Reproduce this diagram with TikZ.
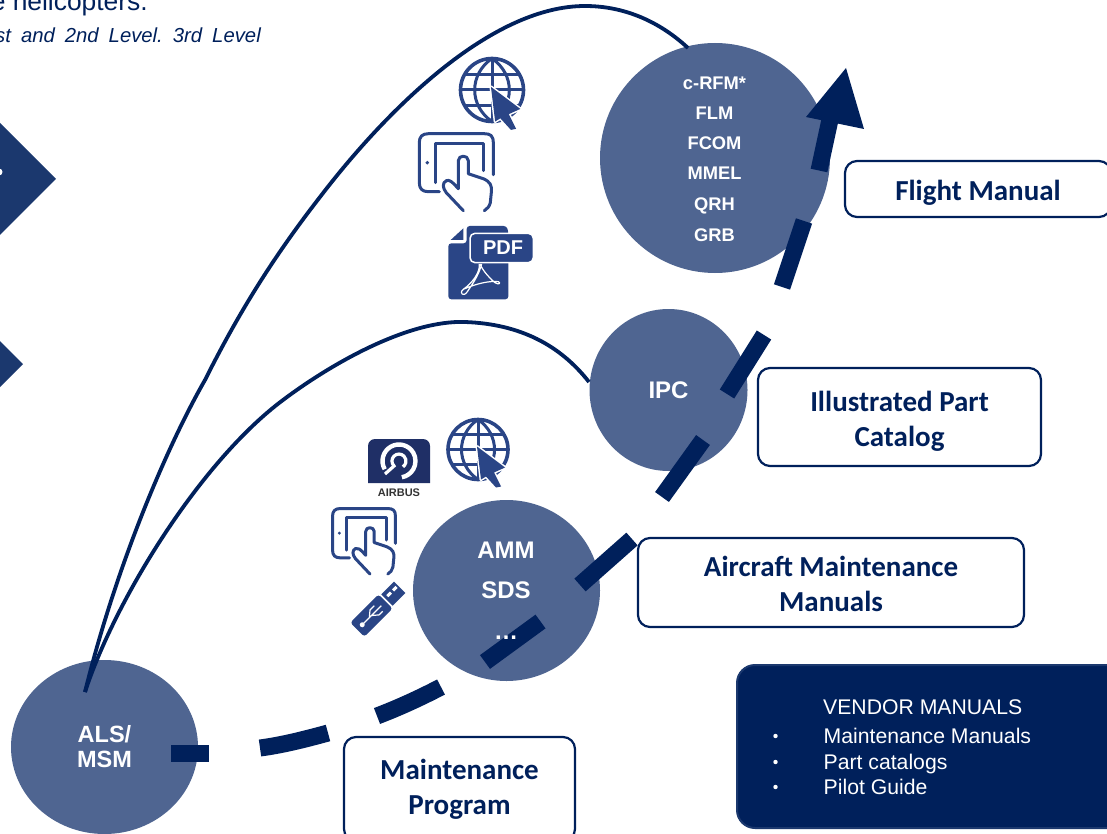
\documentclass[tikz,border=0pt]{standalone}
\usepackage{fontspec}
\setmainfont{Liberation Sans}
\newfontfamily\boxfont{Carlito}
\usetikzlibrary{shapes.geometric}
\definecolor{navy}{HTML}{00205B}
\definecolor{disc}{HTML}{4F6591}
\definecolor{icon}{HTML}{2A4586}
\definecolor{tri}{HTML}{1B386E}
\definecolor{logo}{HTML}{1F2F66}
\newcommand{\fs}[1]{\fontsize{#1}{#1}\selectfont}
\tikzset{
  x=1pt,y=-1pt,
  disc/.style={ellipse,fill=disc,inner sep=0pt,text=white,align=center,font=\bfseries\fs{24}},
  lab/.style={anchor=base,text=white,font=\bfseries\fs{18.3},inner sep=0pt},
  namebox/.style={draw=navy,line width=2.2pt,fill=white,rounded corners=12pt,text=navy,align=center,font=\boxfont\bfseries\fontsize{29}{35}\selectfont,inner sep=0pt},
  thin curve/.style={draw=navy,line width=3.8pt},
  dashpart/.style={draw=navy,line width=17pt},
  iconline/.style={draw=icon,line width=3pt,line cap=round,line join=round},
  vend/.style={anchor=base west,inner sep=0pt,text=white,font=\fs{21.2}},
}
\newcommand{\globeicon}[3]{\begin{scope}[shift={(#1,#2)},scale=#3]
  \draw[iconline,line width=3.6pt,line cap=butt] (0,0) circle (30);
  \draw[iconline,line cap=butt] (0,-30) -- (0,30) (-30,0) -- (30,0) (-26,-15) -- (26,-15) (-26,15) -- (26,15);
  \draw[iconline,line cap=butt] (0,-30) .. controls (-22,-15) and (-22,15) .. (0,30) (0,-30) .. controls (22,-15) and (22,15) .. (0,30);
  \fill[icon,draw=white,line width=3pt,line join=round] (-1,-3) -- (27,18) -- (16,23) -- (23,37) -- (18,38) -- (8,27) -- (3,30) -- cycle;
  \fill[icon,line join=round] (-1,-3) -- (27,18) -- (16,23) -- (23,37) -- (18,38) -- (8,27) -- (3,30) -- cycle;
\end{scope}}
\newcommand{\tableticon}[3]{\begin{scope}[shift={(#1,#2)},scale=#3]
  \draw[iconline] (75,42) -- (75,10) .. controls (75,3) and (72,1) .. (66,1) -- (10,1) .. controls (4,1) and (1,4) .. (1,10) -- (1,50) .. controls (1,56) and (4,59) .. (10,59) -- (21,59);
  \draw[iconline] (17,50) -- (17,11) -- (65,11) -- (65,38);
  \fill[icon] (9,30) circle (1.9);
  \draw[iconline,fill=white] (45,78) -- (28,60) .. controls (24,55) and (24,50) .. (28,48) .. controls (31,47) and (33,48) .. (40,56) -- (40,28) .. controls (40,22) and (50,22) .. (50,28) -- (50,41) -- (65,46) .. controls (72,49) and (74,53) .. (73,60) -- (72,70) .. controls (71,74) and (69,76) .. (66,78);
\end{scope}}
\begin{document}
\begin{tikzpicture}
\useasboundingbox (0,0) rectangle (1107,834);
\clip (0,0) rectangle (1107,834);
% cut-off text and shapes at the top left
\node[anchor=base east,inner sep=0pt,text=navy,font=\fs{26.4}] (head) at (148,11) {e helicopters.};
\node[anchor=base east,inner sep=0pt,text=navy,font=\itshape\fs{20.3}] (sub) at (261,43) {st\hspace{10pt}and\hspace{10pt}2nd\hspace{10pt}Level.\hspace{10pt}3rd\hspace{10pt}Level};
\fill[tri] (-1,122) -- (56,179) -- (-1,236) -- cycle;
\fill[white] (-1,172) circle (3.5);
\fill[tri] (-1,340) -- (23,364) -- (-1,388) -- cycle;
% discs
\node[disc,minimum width=230pt,minimum height=230pt] (flm) at (715,158) {};
\node[disc,minimum width=158pt,minimum height=162pt] (ipc) at (668.5,390) {IPC};
\node[disc,minimum width=187pt,minimum height=181pt] (amm) at (506.5,590.5) {};
\node[disc,minimum width=187pt,minimum height=174pt] (als) at (104.5,747) {};
\node[lab] (t1) at (714.5,89.5) {c-RFM*};
\node[lab] (t2) at (714.5,120) {FLM};
\node[lab] (t3) at (714.5,150) {FCOM};
\node[lab] (t4) at (714.5,180) {MMEL};
\node[lab] (t5) at (714.5,211) {QRH};
\node[lab] (t6) at (714.5,241) {GRB};
\node[lab,font=\bfseries\fs{24}] (a1) at (506,558.5) {AMM};
\node[lab,font=\bfseries\fs{24}] (a2) at (506,598.5) {SDS};
\node[lab,font=\bfseries\fs{23.5}] (s1) at (104.5,742) {ALS/};
\node[lab,font=\bfseries\fs{23.5}] (s2) at (104.5,767) {MSM};
% thin curved connectors
\coordinate (start) at (85,692);
\coordinate (fend) at (688,48);
\coordinate (iend) at (589,382);
\draw[thin curve] (start) .. controls (115,570) and (165,450) .. (205,380) .. controls (240,310) and (275,255) .. (320,197) .. controls (385,112) and (490,6) .. (585,6) .. controls (625,6) and (660,22) .. (fend);
\draw[thin curve] (start) .. controls (115,600) and (200,462) .. (283,400) .. controls (335,361) and (410,320) .. (465,322) .. controls (520,324) and (560,345) .. (iend);
% dashed growing arrow
\coordinate (d1) at (171,753.5); \coordinate (d2) at (209,753.5);
\coordinate (d3) at (260,748); \coordinate (d4) at (328,733);
\coordinate (d5) at (377,716); \coordinate (d6) at (441,687);
\coordinate (d7) at (485,662); \coordinate (d8) at (540.5,621.5);
\coordinate (d9) at (580,585); \coordinate (d10) at (632,539);
\coordinate (d11) at (662,497); \coordinate (d12) at (703,440);
\coordinate (d13) at (727,394); \coordinate (d14) at (764,335);
\coordinate (d15) at (782,287); \coordinate (d16) at (804,221);
\coordinate (d17) at (819,170.5); \coordinate (d18) at (831,115);
\draw[dashpart] (d1) -- (d2);
\draw[dashpart] (d3) .. controls (283,745) and (306,739) .. (d4);
\draw[dashpart] (d5) .. controls (398,708) and (420,698) .. (d6);
\draw[dashpart] (d7) -- (d8);
\draw[dashpart] (d9) -- (d10);
\draw[dashpart] (d11) -- (d12);
\draw[dashpart] (d13) -- (d14);
\draw[dashpart] (d15) -- (d16);
\draw[dashpart] (d17) -- (d18);
\fill[navy] (846,68) -- (864,129) -- (806,117) -- cycle;
\node[lab,font=\bfseries\fs{24}] (a3) at (506,639) {…};
% name boxes
\node[namebox,minimum width=266pt,minimum height=56pt] (fm) at (978,189) {\rule{0pt}{27pt}Flight Manual};
\node[namebox,minimum width=283pt,minimum height=98pt] (ip) at (899.5,417) {\rule{0pt}{29pt}Illustrated Part\\Catalog};
\node[namebox,minimum width=386pt,minimum height=89pt] (am) at (831,582.5) {\rule{0pt}{23pt}Aircraft Maintenance\\Manuals};
\node[namebox,minimum width=231pt,minimum height=104pt] (mp) at (459.5,789) {Maintenance\\Program};
% vendor box
\node[fill=navy,draw=tri,line width=2pt,rounded corners=18pt,minimum width=390pt,minimum height=163pt,inner sep=0pt] (vm) at (932,746.5) {};
\node[vend] (v0) at (823,714) {VENDOR MANUALS};
\node[vend] (v1) at (823.5,743) {Maintenance Manuals};
\node[vend] (v2) at (823.5,769) {Part catalogs};
\node[vend] (v3) at (823.5,794) {Pilot Guide};
\foreach \y in {736,762,787} \fill[white] (775.5,\y) circle (2.2);
% icons
\globeicon{492}{90}{1.05}
\tableticon{418.3}{132.7}{1}
\begin{scope}[shift={(320,40)},scale=1/3]
  \fill[icon,rounded corners=3pt] (440,558) -- (560,558) -- (565,575) -- (565,778) -- (385,778) -- (385,610) -- (440,610) -- cycle;
  \fill[icon] (392,600) -- (430,600) -- (430,565) -- cycle;
  \draw[white,line width=1.2pt,line join=round] (478,672) .. controls (480,700) and (455,730) .. (430,748) .. controls (415,760) and (432,772) .. (442,755) .. controls (455,735) and (475,710) .. (485,672) (430,748) .. controls (470,730) and (510,722) .. (535,725) .. controls (545,730) and (535,735) .. (525,728) .. controls (510,715) and (490,695) .. (480,672);
  \fill[icon,draw=white,line width=1.5pt,rounded corners=5pt] (450,580) rectangle (640,668);
\end{scope}
\node[inner sep=0pt,text=white,font=\bfseries\fs{20}] (pdf) at (503,247.5) {PDF};
\globeicon{478}{449.5}{1}
\tableticon{331.7}{507.7}{0.85}
% Airbus app icon
\fill[logo] (368,483) [rounded corners=7pt] -- (368,439) -- (430,439) [sharp corners] -- (430,483) -- cycle;
\begin{scope}[shift={(399,461)}]
  \draw[white,line width=4.4pt] (150:16.5) arc (150:440:16.5);
  \draw[white,line width=3.2pt] (-14,13) -- (-5,5) arc (135:415:7);
\end{scope}
\node[inner sep=0pt,text=black!80,font=\bfseries\fs{11}] (airbus) at (399,493) {AIRBUS};
% USB stick
\begin{scope}[shift={(378.5,608.5)},rotate=45]
  \fill[icon,rounded corners=3pt] (-30,-10) rectangle (10,10);
  \fill[icon] (12,-8) rectangle (30,8);
  \fill[white] (15,-4) rectangle (20,-1) (23,-4) rectangle (28,-1);
  \draw[white,line width=1.2pt] (-22,0) -- (4,0) (-13,0) -- (-7,-5) -- (-1,-5) (-10,0) -- (-4,5) -- (1,5);
  \fill[white] (-23,0) circle (2.5);
\end{scope}
\end{tikzpicture}
\end{document}
